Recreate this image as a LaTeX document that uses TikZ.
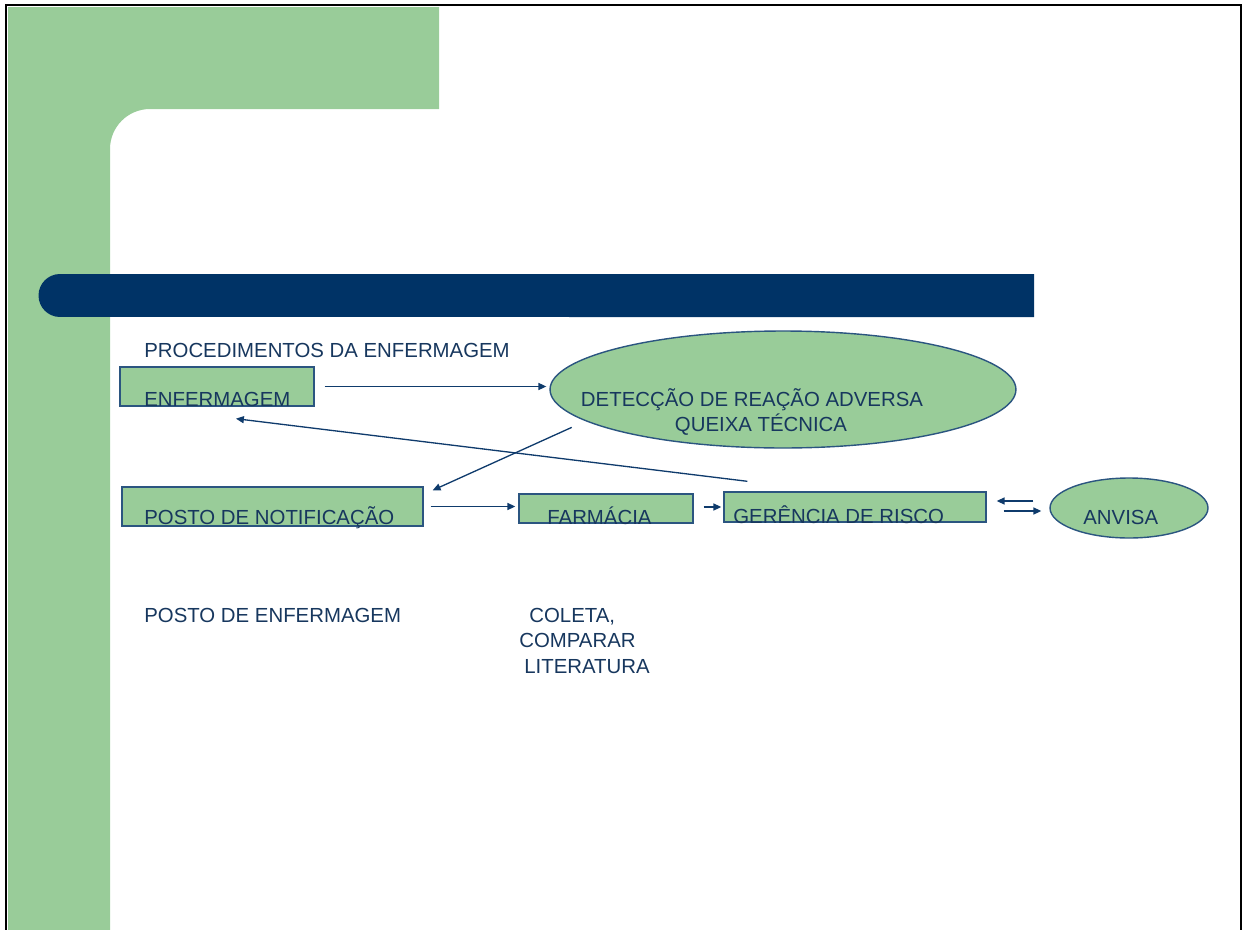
\documentclass[tikz,border=0pt]{standalone}
\usepackage{fontspec}
\setmainfont{Liberation Sans}
\usetikzlibrary{shapes.geometric,arrows.meta,positioning}
\definecolor{slidegreen}{HTML}{99CC99}
\definecolor{slidenavy} {HTML}{003366}
\definecolor{textnavy}  {HTML}{17375E}
\definecolor{edgenavy}  {HTML}{2B5580}
\definecolor{arrownavy} {HTML}{0F3B6C}

\begin{document}
\begin{tikzpicture}[x=0.02cm,y=-0.02cm,
  txt/.style={anchor=base west,inner sep=0pt,text=textnavy,
              font=\fontsize{11.6}{14.2}\selectfont},
  box/.style={draw=edgenavy,fill=slidegreen,line width=0.8pt,inner sep=0pt},
  oval/.style={box,ellipse},
  arr/.style={-{Triangle[length=4.5pt,width=4pt]},draw=arrownavy,line width=0.75pt}
]
\useasboundingbox (0,0) rectangle (1245,930);
% slide frame
\fill[slidegreen] (8,7) -- (439,7) -- (439,109) -- (150,109)
  arc[start angle=90,end angle=180,radius=0.8cm] -- (110,930) -- (8,930) -- cycle;
\fill[slidenavy] (1034,274) -- (60,274)
  arc[start angle=90,end angle=270,radius=0.43cm] -- (1034,317) -- cycle;
\draw[line width=1.2pt] (6,930) -- (6,5) -- (1241,5) -- (1241,930);

% boxes
\node[box,minimum width=3.88cm,minimum height=0.78cm] (enf)   at (217,386.5) {};
\node[oval,minimum width=9.32cm,minimum height=2.34cm] (det)  at (783,389.5) {};
\node[box,minimum width=6.02cm,minimum height=0.78cm] (posto) at (272.5,506.5) {};
\node[box,minimum width=3.48cm,minimum height=0.58cm] (farm)  at (606,508.5) {};
\node[box,minimum width=5.24cm,minimum height=0.6cm]  (ger)   at (855,507) {};
\node[oval,minimum width=3.16cm,minimum height=1.2cm] (anv)   at (1129,508) {};

% labels
\node[txt] (proc)    at (144,357) {PROCEDIMENTOS DA ENFERMAGEM};
\node[txt] (enftxt)  at (144,406) {ENFERMAGEM};
\node[txt,anchor=base] (dettxt)  at (752,406) {DETECÇÃO DE REAÇÃO ADVERSA};
\node[txt,anchor=base] (quetxt)  at (761,431) {QUEIXA TÉCNICA};
\node[txt] (postotxt) at (144,524) {POSTO DE NOTIFICAÇÃO};
\node[txt] (farmtxt)  at (547,524) {FARMÁCIA};
\node[txt] (gertxt)   at (733,523) {GERÊNCIA DE RISCO};
\node[txt] (anvtxt)   at (1083,524) {ANVISA};
\node[txt] (posenf)   at (144,622) {POSTO DE ENFERMAGEM};
\node[txt] (col1)     at (529,622) {COLETA,};
\node[txt] (col2)     at (519,647) {COMPARAR};
\node[txt] (col3)     at (524,673) {LITERATURA};

% flow
\draw[arr] ([shift={(10,0)}]enf.east) -- ([shift={(-3,0)}]enf.east -| det.west);
\draw[arr] ([shift={(-46,-4)}]det.south west) -- ([shift={(9,4)}]posto.north east);
\draw[arr] ([shift={(24,-10)}]ger.north west) -- ([shift={(19,12)}]enf.south);
\draw[arr] ([shift={(7,0)}]posto.east) -- ([shift={(-3,0)}]posto.east -| farm.west);
\draw[arr] ([shift={(10,0)}]ger.west -| farm.east) -- ([shift={(-2,0)}]ger.west);
\draw[arr] ([shift={(-16,-7)}]anv.west) -- ([shift={(10,-6)}]ger.east);
\draw[arr] ([shift={(17,4)}]ger.east) -- ([shift={(-8,3)}]anv.west);
\end{tikzpicture}
\end{document}
